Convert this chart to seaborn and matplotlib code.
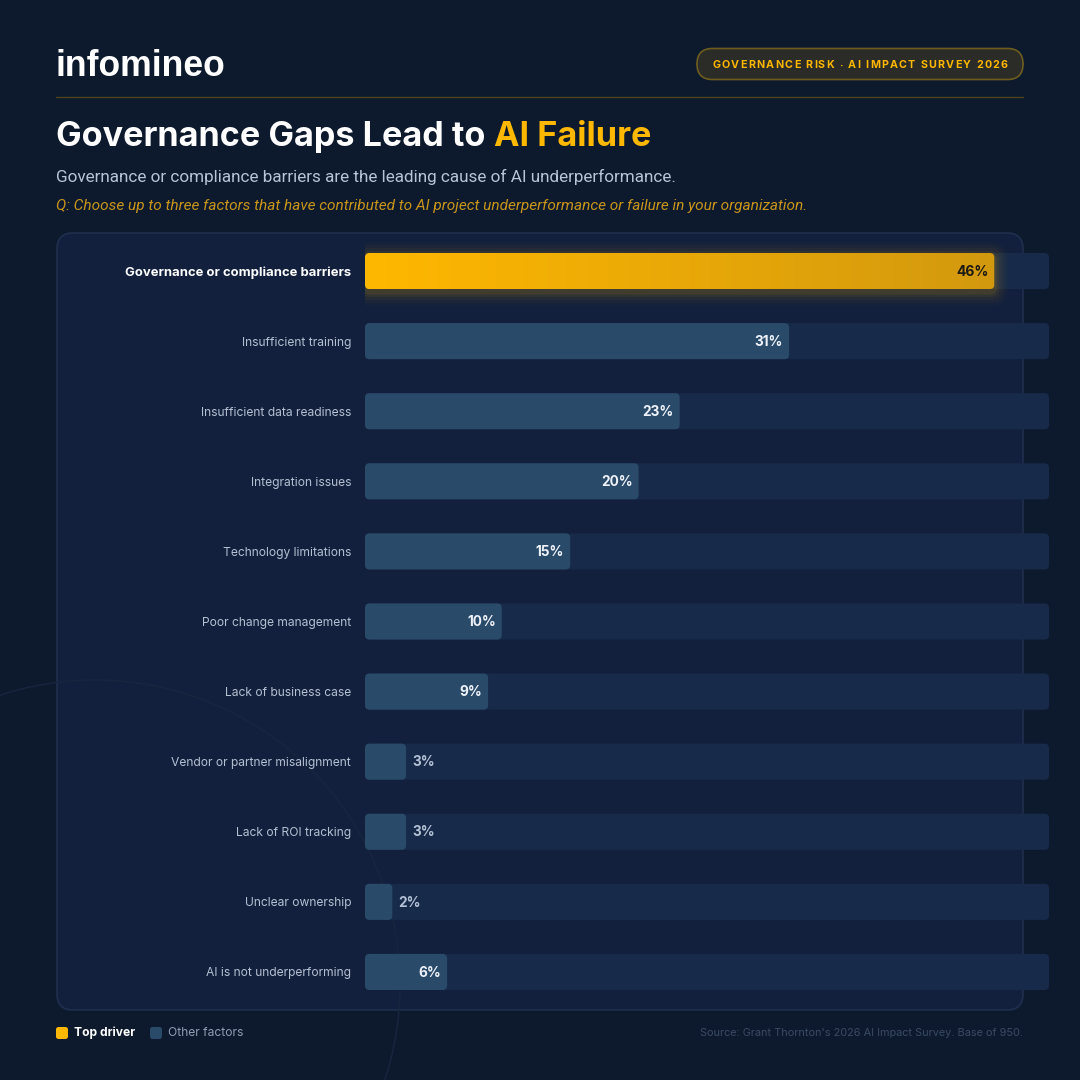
import numpy as np
import pandas as pd
import matplotlib
matplotlib.use("Agg")
import matplotlib.pyplot as plt
import seaborn as sns
from matplotlib.patches import FancyBboxPatch, Circle

# ---------------- data ----------------
categories = [
    "Governance or compliance barriers",
    "Insufficient training",
    "Insufficient data readiness",
    "Integration issues",
    "Technology limitations",
    "Poor change management",
    "Lack of business case",
    "Vendor or partner misalignment",
    "Lack of ROI tracking",
    "Unclear ownership",
    "AI is not underperforming",
]
values = [46, 31, 23, 20, 15, 10, 9, 3, 3, 2, 6]
groups = ["Top driver"] + ["Other factors"] * 10
scale_max = 50

title_main = "Governance Gaps Lead to "
title_accent = "AI Failure"
subtitle = "Governance or compliance barriers are the leading cause of AI underperformance."
question = "Q: Choose up to three factors that have contributed to AI project underperformance or failure in your organization."
badge_text = "GOVERNANCE RISK · AI IMPACT SURVEY 2026"
source_text = "Source: Grant Thornton's 2026 AI Impact Survey. Base of 950."
brand = "infomineo"

# ---------------- style ----------------
BG = "#0d1a2e"
PANEL = "#12203d"
PANEL_EDGE = "#1f2f4d"
TRACK = "#172a49"
OTHER = "#2a4a6a"
GOLD = "#ffb800"
GOLD_DARK = "#d3990f"
LABEL = "#b4bfd0"

sns.set_theme(style="white")
plt.rcParams["font.family"] = ["Inter", "DejaVu Sans"]

W = H = 1080
fig = plt.figure(figsize=(10.8, 10.8), dpi=100, facecolor=BG)

# background / decoration axes in pixel coords
bg = fig.add_axes([0, 0, 1, 1], zorder=0)
bg.set_xlim(0, W)
bg.set_ylim(H, 0)
bg.axis("off")
bg.set_facecolor(BG)

# brand
bg.text(55, 66, brand, fontsize=25.6, fontweight="bold", color="white",
        family=["Liberation Sans", "DejaVu Sans"], va="center", ha="left")

# badge
bg.add_patch(FancyBboxPatch((697, 48.5), 326, 31, boxstyle="round,pad=0,rounding_size=15.5",
                            fc="#2b2b27", ec="#6e5c1e", lw=1.2))
fig.canvas.draw()
renderer = fig.canvas.get_renderer()
# badge text with letter tracking
tracking = 1.3
chars = []
total = 0.0
for ch in badge_text:
    t = bg.text(0, 0, ch, fontsize=7.7, fontweight="bold", color=GOLD, ha="left", va="center")
    w = t.get_window_extent(renderer).width if ch != " " else 2.6
    chars.append((t, w))
    total += w + tracking
total -= tracking
xc = 860 - total / 2
for t, w in chars:
    t.set_position((xc, 65.5))
    xc += w + tracking

# divider
bg.plot([56, 1023], [96.5, 96.5], color="#4e431c", lw=1)

# title
t1 = bg.text(56, 137, title_main, fontsize=24.6, fontweight="bold", color="white",
             ha="left", va="center")
fig.canvas.draw()
bb = t1.get_window_extent()
bg.text(bb.x1, 137, title_accent, fontsize=24.6, fontweight="bold", color=GOLD,
        ha="left", va="center")

bg.text(56, 177, subtitle, fontsize=12.35, color="#b7c3d6", ha="left", va="center",
        family=["Roboto", "DejaVu Sans"])
bg.text(56, 206, question, fontsize=11.1, color="#c8951a", style="italic",
        ha="left", va="center", family=["Roboto", "DejaVu Sans"])

# panel
bg.add_patch(FancyBboxPatch((57, 233), 966, 777, boxstyle="round,pad=0,rounding_size=16",
                            fc=PANEL, ec=PANEL_EDGE, lw=1.2))
bg.add_patch(Circle((95, 985), 305, fill=False, ec="#17263f", lw=1.0))

# legend
bg.add_patch(FancyBboxPatch((56, 1027), 12, 12, boxstyle="round,pad=0,rounding_size=2.5",
                            fc=GOLD, ec="none"))
bg.text(74, 1033, "Top driver", fontsize=8.7, fontweight="bold", color="white",
        ha="left", va="center")
bg.add_patch(FancyBboxPatch((150, 1027), 12, 12, boxstyle="round,pad=0,rounding_size=2.5",
                            fc=OTHER, ec="none"))
bg.text(168, 1033, "Other factors", fontsize=8.7, color="#8e9cb2", ha="left", va="center")

bg.text(1023, 1033, source_text, fontsize=7.85, color="#3a4a62", ha="right", va="center")

# ---------------- bars ----------------
x0, x1 = 365, 1049
ytop, ybot = 236, 1007
ax = fig.add_axes([x0 / W, 1 - ybot / H, (x1 - x0) / W, (ybot - ytop) / H], zorder=2)
ax.patch.set_alpha(0)

df = pd.DataFrame({"category": categories, "value": values, "group": groups,
                   "track": [scale_max] * len(categories)})

sns.barplot(data=df, x="track", y="category", color=TRACK, width=0.515, ax=ax,
            saturation=1, zorder=1)
n_track = len(ax.patches)
sns.barplot(data=df, x="value", y="category", hue="group",
            palette={"Top driver": GOLD, "Other factors": OTHER},
            width=0.515, dodge=False, ax=ax, saturation=1, legend=False, zorder=2)

ax.set_xlim(0, scale_max)
ax.set_ylim(len(categories) - 0.5, -0.5)
ax.set_xlabel("")
ax.set_ylabel("")
ax.set_xticks([])
for s in ax.spines.values():
    s.set_visible(False)

# pixel scales for rounding
px_per_x = (x1 - x0) / scale_max
px_per_y = (ybot - ytop) / len(categories)
aspect = px_per_x / px_per_y
r = 4.5 / px_per_x

patches = list(ax.patches)
for i, p in enumerate(patches):
    x, y, w, h = p.get_x(), p.get_y(), p.get_width(), p.get_height()
    if w <= 0 or np.isnan(w):
        p.remove()
        continue
    fc = p.get_facecolor()
    p.remove()
    is_top = (i >= n_track) and np.allclose(fc[:3], matplotlib.colors.to_rgb(GOLD))
    if is_top:
        # soft glow, slightly offset downward
        for k, a in [(14, 0.02), (11, 0.03), (8, 0.04), (5, 0.06), (2.5, 0.08)]:
            dx = k / px_per_x
            dy = k / px_per_y
            off = 3 / px_per_y
            ax.add_patch(FancyBboxPatch((x - dx, y - dy + off), w + 2 * dx, h + 2 * dy,
                                        boxstyle=f"round,pad=0,rounding_size={r + dx}",
                                        mutation_aspect=aspect, fc=GOLD, ec="none",
                                        alpha=a, zorder=2.5))
        fb = FancyBboxPatch((x, y), w, h, boxstyle=f"round,pad=0,rounding_size={r}",
                            mutation_aspect=aspect, fc="none", ec="none", zorder=3)
        ax.add_patch(fb)
        grad = np.linspace(0, 1, 256).reshape(1, -1)
        cmap = matplotlib.colors.LinearSegmentedColormap.from_list("g", [GOLD, GOLD_DARK])
        im = ax.imshow(grad, extent=(x, x + w, y + h, y), cmap=cmap, aspect="auto",
                       zorder=3, interpolation="bilinear")
        im.set_clip_path(fb)
    else:
        ax.add_patch(FancyBboxPatch((x, y), w, h, boxstyle=f"round,pad=0,rounding_size={r}",
                                    mutation_aspect=aspect, fc=fc, ec="none",
                                    zorder=1 if i < n_track else 2))
ax.set_xlim(0, scale_max)
ax.set_ylim(len(categories) - 0.5, -0.5)

# value labels
for i, v in enumerate(values):
    if i == 0:
        ax.text(v - 6 / px_per_x, i + 0.01, f"{v}%", ha="right", va="center", fontsize=10,
                fontweight="bold", color="#1b1a14", zorder=5)
    elif v >= 5:
        ax.text(v - 6 / px_per_x, i + 0.01, f"{v}%", ha="right", va="center", fontsize=9.8,
                fontweight="bold", color="#eef2f8", zorder=5)
    else:
        ax.text(v + 6 / px_per_x, i + 0.01, f"{v}%", ha="left", va="center", fontsize=9.8,
                fontweight="bold", color="#b3c0d4", zorder=5)

# category labels
ax.tick_params(axis="y", length=0, pad=10)
for i, lab in enumerate(ax.get_yticklabels()):
    if i == 0:
        lab.set_fontsize(9.4)
        lab.set_color("white")
        lab.set_fontweight("bold")
    else:
        lab.set_fontsize(8.7)
        lab.set_color(LABEL)

fig.savefig("out.png", dpi=100, facecolor=BG)
